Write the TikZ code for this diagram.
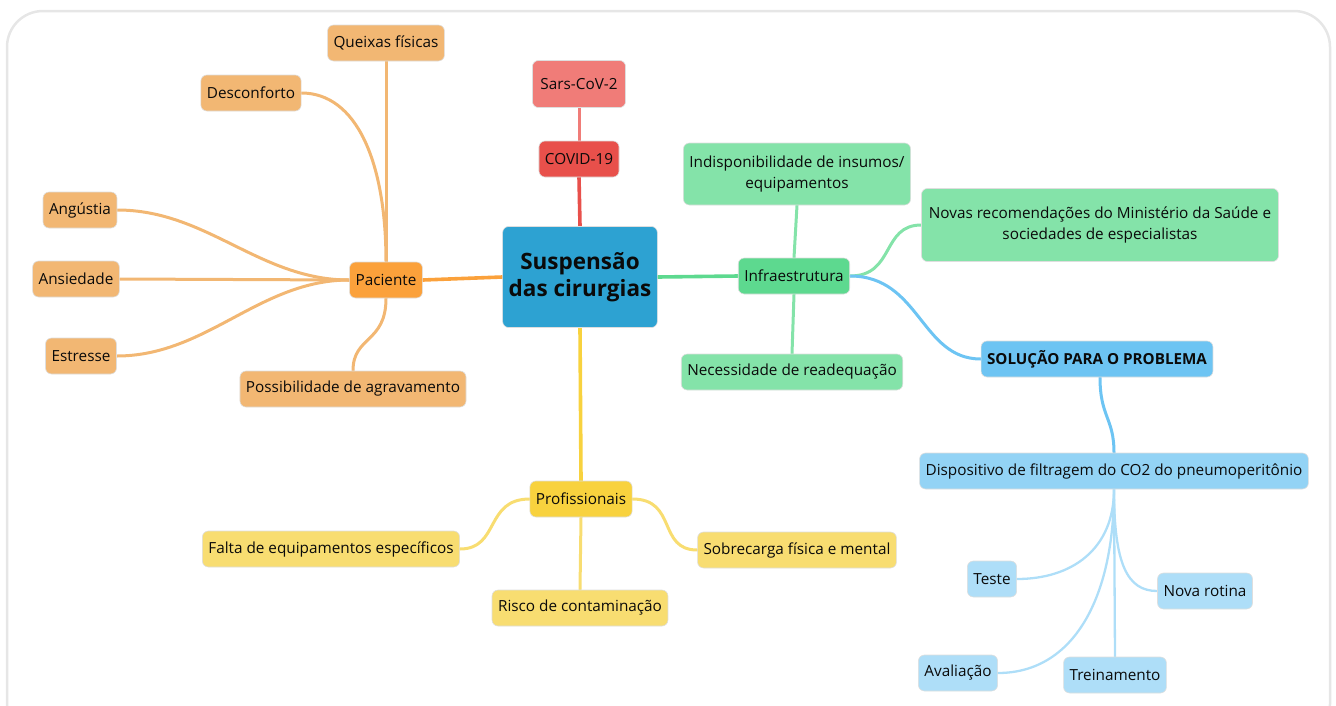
\documentclass[tikz,border=0pt]{standalone}
\usepackage{fontspec}
\setmainfont{Open Sans}
\pgfdeclarelayer{bg}
\pgfsetlayers{bg,main}
\definecolor{txt}{HTML}{0A0A0A}
\definecolor{frame}{HTML}{E6E6E6}
\definecolor{oleaf}{HTML}{F2B773}
\definecolor{omid}{HTML}{FBA13B}
\definecolor{rmid}{HTML}{E8504B}
\definecolor{rleaf}{HTML}{F07C78}
\definecolor{gmid}{HTML}{5DD98F}
\definecolor{gleaf}{HTML}{84E3A9}
\definecolor{bcen}{HTML}{2DA2D2}
\definecolor{bsol}{HTML}{6DC4F3}
\definecolor{bdisp}{HTML}{93D3F5}
\definecolor{bleaf}{HTML}{AEDEF8}
\definecolor{ymid}{HTML}{F8D23E}
\definecolor{yleaf}{HTML}{F8DD71}
\begin{document}
\begin{tikzpicture}[x=1pt,y=-1pt,
  box/.style={rounded corners=6pt, draw=black!13, line width=0.6pt,
    inner xsep=6pt, inner ysep=3pt, minimum height=36pt, align=center,
    font=\fontsize{15.3}{20.5}\selectfont, text=txt},
  edge/.style={line width=3pt, line cap=round},
  thin edge/.style={line width=2.3pt, line cap=round}]
\useasboundingbox (0,0) rectangle (1336,705);
\draw[frame, line width=2.5pt, rounded corners=36pt] (7,11) rectangle (1330,740);

% center
\node[box, fill=bcen, minimum width=154pt, minimum height=101pt,
  font=\fontsize{22.5}{27}\selectfont\bfseries] (cen) at (580,277) {Suspensão\\das cirurgias};

% Paciente branch
\node[box, fill=omid] (pac) at (386,280) {Paciente};
\node[box, fill=oleaf] (que) at (386,43) {Queixas físicas};
\node[box, fill=oleaf] (des) at (251,93) {Desconforto};
\node[box, fill=oleaf] (ang) at (80,210) {Angústia};
\node[box, fill=oleaf] (ans) at (76,279) {Ansiedade};
\node[box, fill=oleaf] (est) at (81,356) {Estresse};
\node[box, fill=oleaf] (pos) at (353,389) {Possibilidade de agravamento};

% COVID branch
\node[box, fill=rmid] (cov) at (579,159) {COVID-19};
\node[box, fill=rleaf, minimum height=47pt, inner xsep=8pt] (sars) at (579,84) {Sars-CoV-2};

% Infra branch
\node[box, fill=gmid] (inf) at (794,276) {Infraestrutura};
\node[box, fill=gleaf, minimum height=62pt] (ind) at (797,174) {Indisponibilidade de insumos/\\equipamentos};
\node[box, fill=gleaf, minimum height=73pt, minimum width=357pt] (nov) at (1100,225) {Novas recomendações do Ministério da Saúde e\\sociedades de especialistas};
\node[box, fill=gleaf] (nec) at (792,372) {Necessidade de readequação};

% Solution branch
\node[box, fill=bsol, font=\fontsize{15.2}{19}\selectfont\bfseries] (sol) at (1097,359) {SOLUÇÃO PARA O PROBLEMA};
\node[box, fill=bdisp] (disp) at (1114,471) {Dispositivo de filtragem do CO2 do pneumoperitônio};
\node[box, fill=bleaf] (tes) at (992,579) {Teste};
\node[box, fill=bleaf] (nro) at (1205,591) {Nova rotina};
\node[box, fill=bleaf] (ava) at (958,673) {Avaliação};
\node[box, fill=bleaf] (tre) at (1115,675) {Treinamento};

% Profissionais branch
\node[box, fill=ymid] (pro) at (581,499) {Profissionais};
\node[box, fill=yleaf] (fal) at (331,549) {Falta de equipamentos específicos};
\node[box, fill=yleaf] (ris) at (580,608) {Risco de contaminação};
\node[box, fill=yleaf] (sob) at (797,550) {Sobrecarga física e mental};

\begin{pgfonlayer}{bg}
% center edges
\draw[edge, omid, line width=3.6pt] (cen.west) -- (pac.east);
\draw[edge, rmid, line width=3.6pt] (cen.north) -- (cov.south);
\draw[edge, gmid, line width=3.6pt] (cen.east) -- (inf.west);
\draw[edge, ymid, line width=3.6pt] (cen.south) -- (pro.north);
% Paciente
\draw[edge, oleaf] (pac.north) -- (que.south);
\draw[edge, oleaf] (des.east) .. controls +(55,0) and +(0,-100) .. (pac.north);
\draw[edge, oleaf] (pac.west) .. controls +(-90,0) and +(90,0) .. (ang.east);
\draw[edge, oleaf] (pac.west) -- (ans.east);
\draw[edge, oleaf] (pac.west) .. controls +(-90,0) and +(90,0) .. (est.east);
\draw[edge, oleaf] (pac.south) .. controls +(0,45) and +(0,-35) .. (pos.north);
% COVID
\draw[edge, rleaf] (cov.north) -- (sars.south);
% Infra
\draw[edge, gleaf] (inf.north) -- (ind.south);
\draw[edge, gleaf] (inf.south) -- (nec.north);
\draw[edge, gleaf] (inf.east) .. controls +(45,0) and +(-40,0) .. (nov.west);
\draw[edge, bsol] (inf.east) .. controls +(70,0) and +(-60,0) .. (sol.west);
% Solution
\draw[edge, bsol] ([xshift=3pt]sol.south) .. controls +(0,40) and +(0,-35) .. (disp.north);
\draw[thin edge, bleaf] (disp.south) .. controls +(0,60) and +(55,0) .. (tes.east);
\draw[thin edge, bleaf] (disp.south) .. controls +(0,75) and +(-30,0) .. (nro.west);
\draw[thin edge, bleaf] (disp.south) .. controls +(0,110) and +(75,0) .. (ava.east);
\draw[thin edge, bleaf] (disp.south) -- (tre.north);
% Profissionais
\draw[edge, yleaf] (pro.west) .. controls +(-45,0) and +(40,0) .. (fal.east);
\draw[edge, yleaf] (pro.south) -- (ris.north);
\draw[edge, yleaf] (pro.east) .. controls +(45,0) and +(-40,0) .. (sob.west);
\end{pgfonlayer}
\end{tikzpicture}
\end{document}
